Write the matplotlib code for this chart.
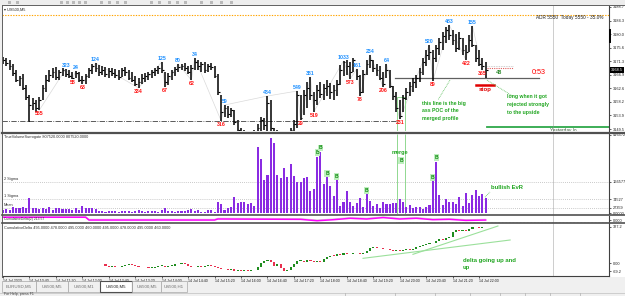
import matplotlib
matplotlib.use("Agg")
import matplotlib.pyplot as plt
from matplotlib.patches import Rectangle

plt.rcParams['font.family'] = ['Liberation Sans', 'DejaVu Sans']

# ---------------- data ----------------
bar_high = [3172.6, 3172.3, 3171.7, 3170.4, 3168.5, 3166.5, 3167.2, 3163.6, 3160.4, 3159.5,
            3158.8, 3159.8, 3163.6, 3166.9, 3168.5, 3169.1, 3169.4, 3168.5, 3169.1, 3168.8,
            3168.5, 3167.8, 3168.1, 3167.8, 3166.5, 3167.2, 3169.1, 3170.4, 3170.7, 3170.1,
            3169.7, 3169.4, 3169.1, 3169.1, 3168.8, 3168.5, 3169.1, 3169.4, 3168.5, 3167.8,
            3166.5, 3165.9, 3167.2, 3167.5, 3167.8, 3168.5, 3169.1, 3169.7, 3171.0, 3167.8,
            3167.5, 3168.5, 3169.4, 3170.4, 3170.4, 3170.7, 3169.7, 3170.1, 3172.3, 3171.7,
            3171.0, 3171.0, 3170.4, 3170.7, 3169.7, 3167.2, 3160.4, 3157.2, 3156.9, 3156.3,
            3155.6, 3152.4, 3149.8, 3149.2, 3148.2, 3147.9, 3149.2, 3151.1, 3153.4, 3153.0,
            3160.1, 3158.8, 3149.8, 3149.2, 3148.5, 3147.9, 3148.5, 3149.8, 3152.4, 3161.7,
            3160.4, 3162.0, 3164.6, 3166.2, 3161.4, 3163.6, 3164.6, 3164.0, 3165.2, 3164.3,
            3163.6, 3165.2, 3170.1, 3171.4, 3171.7, 3171.0, 3172.3, 3168.8, 3166.9, 3168.5,
            3171.7, 3173.3, 3171.7, 3170.4, 3169.7, 3167.8, 3170.4, 3168.5, 3163.3, 3161.4,
            3158.8, 3160.4, 3162.7, 3164.6, 3165.9, 3166.9, 3169.1, 3172.3, 3174.9, 3176.5,
            3174.9, 3176.5, 3178.7, 3180.7, 3182.3, 3182.9, 3181.3, 3180.0, 3180.7, 3178.7,
            3176.5, 3179.7, 3182.6, 3176.5, 3174.9, 3172.3, 3171.0]
bar_low = [3170.4, 3169.7, 3168.5, 3166.5, 3164.6, 3163.3, 3162.0, 3158.8, 3151.8, 3155.6,
           3155.0, 3155.6, 3158.8, 3161.4, 3164.6, 3165.9, 3165.2, 3165.2, 3166.5, 3166.2,
           3165.9, 3165.6, 3165.9, 3164.6, 3164.0, 3164.0, 3165.9, 3167.2, 3167.8, 3166.5,
           3166.9, 3166.2, 3165.9, 3166.5, 3165.9, 3165.2, 3166.2, 3166.5, 3165.2, 3164.6,
           3163.3, 3162.7, 3164.0, 3164.6, 3165.2, 3165.9, 3166.5, 3167.2, 3167.5, 3163.0,
           3163.6, 3165.2, 3166.5, 3167.8, 3168.5, 3168.1, 3167.2, 3165.2, 3168.5, 3168.5,
           3167.8, 3167.5, 3167.8, 3168.5, 3165.9, 3160.4, 3152.1, 3153.4, 3153.0, 3153.4,
           3150.8, 3148.5, 3146.0, 3145.3, 3144.0, 3144.4, 3145.3, 3146.6, 3148.5, 3149.2,
           3147.9, 3148.5, 3146.0, 3145.3, 3144.7, 3144.0, 3145.0, 3146.6, 3147.9, 3149.8,
           3152.4, 3154.0, 3156.3, 3158.8, 3155.0, 3157.2, 3159.5, 3158.8, 3160.1, 3159.1,
           3158.8, 3160.1, 3163.6, 3166.5, 3166.9, 3165.6, 3167.8, 3165.2, 3160.1, 3161.1,
           3166.9, 3169.1, 3167.8, 3166.5, 3165.2, 3163.0, 3165.9, 3162.7, 3158.8, 3155.0,
           3152.7, 3155.0, 3158.8, 3160.1, 3161.4, 3162.7, 3164.6, 3166.9, 3169.7, 3171.7,
           3164.9, 3171.0, 3173.3, 3174.9, 3177.1, 3178.1, 3176.5, 3174.2, 3174.9, 3173.3,
           3171.7, 3174.2, 3175.9, 3171.0, 3169.7, 3168.5, 3165.9]
bar_close = [3171.7, 3170.7, 3169.7, 3167.5, 3165.2, 3165.9, 3162.7, 3159.8, 3157.2, 3157.9,
             3156.3, 3158.8, 3162.7, 3165.2, 3166.9, 3167.8, 3166.2, 3167.8, 3168.5, 3167.2,
             3166.5, 3165.9, 3167.5, 3165.2, 3165.2, 3166.5, 3168.5, 3169.7, 3169.1, 3167.8,
             3168.5, 3167.2, 3168.1, 3167.5, 3166.9, 3166.2, 3168.5, 3167.8, 3165.9, 3165.2,
             3164.0, 3164.6, 3165.9, 3166.5, 3167.2, 3167.8, 3168.5, 3169.1, 3168.5, 3164.6,
             3166.5, 3167.8, 3168.8, 3169.4, 3169.7, 3169.1, 3167.8, 3169.1, 3171.0, 3169.7,
             3170.4, 3168.5, 3169.7, 3169.4, 3166.5, 3161.4, 3155.0, 3156.3, 3154.3, 3155.6,
             3151.8, 3149.2, 3147.3, 3146.6, 3146.0, 3146.9, 3147.9, 3149.8, 3152.4, 3150.8,
             3157.9, 3149.8, 3147.6, 3147.3, 3146.6, 3146.0, 3147.3, 3149.2, 3151.1, 3160.4,
             3153.0, 3160.4, 3162.7, 3160.4, 3158.8, 3162.0, 3160.7, 3162.7, 3163.3, 3161.4,
             3162.0, 3164.0, 3168.5, 3171.0, 3169.7, 3167.8, 3171.7, 3166.5, 3161.4, 3167.2,
             3170.4, 3171.7, 3169.1, 3168.5, 3165.9, 3164.0, 3168.5, 3163.3, 3160.1, 3156.3,
             3153.7, 3159.5, 3161.4, 3163.3, 3164.6, 3165.9, 3167.8, 3171.0, 3173.3, 3174.2,
             3172.3, 3175.5, 3177.5, 3179.4, 3181.3, 3179.7, 3178.1, 3175.5, 3178.7, 3174.9,
             3174.2, 3178.1, 3176.5, 3172.3, 3170.4, 3169.7, 3168.5]

high_label_idx = [19, 22, 28, 48, 53, 58, 67, 80, 89, 93, 103, 107, 111, 116, 129, 135, 142]
high_label_txt = ["323", "24", "124", "125", "80", "34", "59", "434", "549", "381",
                  "1033", "161", "234", "64", "520", "483", "155"]
low_label_idx = [11, 21, 24, 41, 49, 57, 66, 90, 94, 105, 108, 115, 120, 130, 140, 145]
low_label_txt = ["555", "58", "63", "334", "67", "62", "316", "29", "519", "573",
                 "78", "206", "231", "89", "422", "365"]

price_ticks = [3188.7, 3184.3, 3180.0, 3175.6, 3171.3, 3166.9, 3162.6, 3158.2, 3153.9, 3149.5]

volume = [15800, 21100, 15800, 31600, 26400, 26400, 31600, 26400, 79100, 26400,
          26400, 21100, 26400, 21100, 31600, 15800, 26400, 26400, 21100, 21100,
          21100, 15800, 26400, 15800, 36900, 26400, 26400, 26400, 21100, 10500,
          10500, 8000, 10500, 13000, 10500, 8000, 10500, 13000, 10500, 8000,
          10500, 15800, 10500, 8000, 10500, 13000, 10500, 8000, 15800, 26400,
          13000, 10500, 8000, 10500, 13000, 10500, 15800, 21100, 10500, 15800,
          3700, 6900, 15800, 15800, 3700, 58000, 47500, 15800, 26400, 31600,
          84400, 52700, 58000, 58000, 47500, 52700, 36900, 353300, 290000, 174000,
          200400, 400700, 374400, 200400, 184600, 237300, 189800, 263700, 195100, 163500,
          163500, 184600, 189800, 116000, 126600, 300600, 326900, 152900, 189800, 142400,
          89600, 174000, 36900, 58000, 116000, 58000, 36900, 52700, 79100, 31600,
          100200, 63300, 36900, 47500, 26400, 58000, 47500, 47500, 52700, 52700,
          73800, 58000, 31600, 42200, 26400, 31600, 31600, 21100, 31600, 42200,
          168700, 274200, 94900, 42200, 73800, 58000, 58000, 47500, 84400, 36900,
          105500, 52700, 94900, 121300, 89600, 100200, 79100]
sigma_values = [166577, 74527, 27359]
sigma_names = ["2 Sigma", "1 Sigma", "Mean"]
vol_top_label = 416572
b_label_idx = [95, 96, 98, 101, 110, 130, 131]

delta_start = 31
delta_open = [-10, -20, -30, -25, -35, -30, -20, -15, -10, -15,
              -20, -30, -35, -30, -40, -38, -30, -25, -20, -30,
              -25, -20, -10, -5, 0, -8, -20, -30, -35, -25,
              -30, -20, -15, -25, -30, -40, -55, -50, -60, -55,
              -65, -60, -70, -65, -70, -60, -62, -30, 0, 20,
              30, 10, -20, -10, -40, -70, -60, -35, -10, 20,
              25, 10, 30, 20, 10, 25, 15, 40, 60, 70,
              65, 80, 75, 90, 85, 80, 95, 90, 80, 90,
              110, 140, 150, 140, 135, 125, 130, 120, 115, 120,
              110, 120, 125, 120, 130, 145, 155, 165, 175, 180,
              185, 200, 215, 210, 230, 240, 280, 300, 295, 300,
              290, 305, 325, 330, 320, 325]
delta_close = [-20, -30, -25, -35, -30, -20, -15, -10, -15, -20,
               -30, -35, -30, -40, -38, -30, -25, -20, -30, -25,
               -20, -10, -5, 0, -8, -20, -30, -35, -25, -30,
               -20, -15, -25, -30, -40, -55, -50, -60, -55, -65,
               -60, -70, -65, -70, -60, -62, -30, 0, 20, 30,
               10, -20, -10, -40, -70, -60, -35, -10, 20, 25,
               10, 30, 20, 10, 25, 15, 40, 60, 70, 65,
               80, 75, 90, 85, 80, 95, 90, 80, 90, 110,
               140, 150, 140, 135, 125, 130, 120, 115, 120, 110,
               120, 125, 120, 130, 145, 155, 165, 175, 180, 185,
               200, 215, 210, 230, 240, 280, 300, 295, 300, 290,
               305, 325, 330, 320, 325, 330]
delta_ticks = [327.2, 0.0, -69.2]
delta_tick_labels = ["327.2", "0.00", "-69.2"]

strip_idx = [-0.3, 25, 26, 64, 65, 90, 95, 100, 105, 110, 115, 120, 125, 130, 135, 140, 146]
strip_val = [0.75, 0.75, 0.35, 0.35, 0.5, 0.45, 0.25, 0.4, 0.6, 0.5, 0.7, 0.5, 0.6, 0.4, 0.45, 0.3, 0.35]

time_labels = ["14 Jul 2020", "14 Jul 10:40", "14 Jul 11:20", "14 Jul 12:00", "14 Jul 12:40",
               "14 Jul 13:20", "14 Jul 14:00", "14 Jul 14:40", "14 Jul 15:20", "14 Jul 16:00",
               "14 Jul 16:40", "14 Jul 17:20", "14 Jul 18:00", "14 Jul 18:40", "14 Jul 19:20",
               "14 Jul 20:00", "14 Jul 20:40", "14 Jul 21:20", "14 Jul 22:00"]
tab_names = ["EURUSD,M5", "US500,M5", "US500,M1", "US500,M5", "US500,M5", "US500,H1"]

# levels drawn on the chart
level_top_dotted = 3186.2
level_dashdot = 3152.1
level_poc = 3165.9
level_stop = 3163.6
level_entry = 3169.1
level_yest_low = 3150.1

# ---------------- figure ----------------
W, H = 625, 296
fig = plt.figure(figsize=(W / 100, H / 100), dpi=100, facecolor='#F0F0F0')


def box(x0, y0, x1, y1, **kw):
    return fig.add_axes([x0 / W, 1 - y1 / H, (x1 - x0) / W, (y1 - y0) / H], **kw)


bg = box(0, 0, W, H)
bg.set_xlim(0, W)
bg.set_ylim(H, 0)
bg.axis('off')
bg.set_zorder(-5)
bg.add_patch(Rectangle((2, 5), 623, 272, facecolor='white', edgecolor='none'))
bg.add_patch(Rectangle((0, 0), W, 5, facecolor='#EDEDED', edgecolor='none'))
for xx in [8, 16, 60, 66, 72, 78, 84, 100, 108, 116, 124, 150, 158, 168, 176, 184, 200, 210, 220, 230]:
    bg.add_patch(Rectangle((xx, 0.5), 3, 3, facecolor='#B8B8B8', edgecolor='none'))
bg.plot([0, W], [292.5, 292.5], color='#C8C8C8', lw=0.6)
for xx in [345, 395, 435, 470, 500, 525, 550, 580]:
    bg.plot([xx, xx], [293, 296], color='#B0B0B0', lw=0.5)

XL = (-0.3, 183.3)
idx = list(range(len(bar_high)))


def style(ax):
    ax.set_xlim(*XL)
    ax.set_facecolor('white')
    for s in ['top', 'left', 'bottom']:
        ax.spines[s].set_visible(False)
    ax.spines['right'].set_color('#404040')
    ax.spines['right'].set_linewidth(0.8)
    ax.yaxis.tick_right()
    ax.tick_params(axis='y', labelsize=2.8, length=1.5, width=0.5, pad=1, colors='#202020')
    ax.set_xticks([])


# ---- main price panel ----
ax = box(2, 6, 609, 131)
style(ax)
ax.set_ylim(3148.86, 3189.02)
ax.set_yticks(price_ticks)
ax.set_yticklabels([f"{v:.1f}" for v in price_ticks])

piv = sorted([(i, bar_high[i]) for i in high_label_idx] + [(i, bar_low[i]) for i in low_label_idx])
ax.plot([p[0] for p in piv], [p[1] for p in piv], color='#DADADA', lw=0.5, zorder=1)

ax.axhline(level_top_dotted, color='#FFA500', lw=0.8, ls=(0, (1.2, 1.2)), zorder=1)
ax.plot([XL[0], 119], [level_dashdot] * 2, color='#404040', lw=0.6, ls='-.', zorder=1)

ax.vlines(idx, bar_low, bar_high, color='black', lw=1.1, zorder=3)
ax.hlines(bar_close, idx, [i + 0.55 for i in idx], color='black', lw=0.8, zorder=3)

for i, t in zip(high_label_idx, high_label_txt):
    ax.annotate(t, (i, bar_high[i]), xytext=(0, 0.6), textcoords='offset points', ha='center',
                va='bottom', fontsize=3.8, fontweight='bold', color='#1E90FF', zorder=4)
for i, t in zip(low_label_idx, low_label_txt):
    ax.annotate(t, (i, bar_low[i]), xytext=(0, -0.6), textcoords='offset points', ha='center',
                va='top', fontsize=3.8, fontweight='bold', color='#FF1010', zorder=4)

ax.plot([118.5, 162], [level_poc] * 2, color='#606060', lw=0.9, zorder=2)
ax.plot([143, 148.5], [level_stop] * 2, color='#E00000', lw=1.8, zorder=2)
ax.text(145.8, level_stop - 0.7, "stop", color='#E00000', fontsize=4.3, fontweight='bold',
        ha='center', va='top')
ax.plot([146.5, 154.3], [level_entry] * 2, color='#E06060', lw=0.8, ls=(0, (1, 1)), zorder=2)
ax.plot([146.5, 154.3], [level_entry + 0.6] * 2, color='#C0C0C0', lw=0.6, ls=(0, (1, 1)), zorder=2)
ax.text(150, 3167.8, "48", color='#2E8B2E', fontsize=4, fontweight='bold', ha='center', va='center')
ax.text(162, 3167.8, "0:53", color='#FF0000', fontsize=5.2, ha='center', va='center')
ax.plot([146.5, XL[1]], [level_yest_low] * 2, color='#2EA84A', lw=1.3, zorder=2)
ax.text(165.5, 3149.9, "Yesterday lo", color='#3A5A3A', fontsize=3.4, va='top', ha='left', clip_on=True)
ax.add_patch(Rectangle((119.2, 3140), 2.4, 19.8, fill=False, edgecolor='#90D890', lw=0.7, zorder=2))

green = '#1FA51F'
ax.text(126.7, 3158.6, "this line is the big\nass POC of the\nmerged profile", color=green,
        fontsize=3.7, fontweight='bold', ha='left', va='top', linespacing=1.7)
ax.text(152.5, 3160.6, "long when it got\nrejected strongly\nto the upside", color=green,
        fontsize=3.7, fontweight='bold', ha='left', va='top', linespacing=1.7)
ax.plot([135.2, 131.6], [3165.2, 3158.9], color='#60C060', lw=0.6, ls=(0, (1, 1)))
ax.plot([146.4, 154.3], [3165.2, 3160.0], color='#60C060', lw=0.6, ls=(0, (1, 1)))

ax.annotate(f"{bar_close[-1]:.1f}", xy=(1.0, bar_close[-1]), xycoords=('axes fraction', 'data'),
            xytext=(1.2, 0), textcoords='offset points', ha='left', va='center', fontsize=2.8,
            color='white', bbox=dict(boxstyle='square,pad=0.25', fc='black', ec='none'),
            annotation_clip=False)
ax.text(0.004, 0.985, "\u25be US500,M5", transform=ax.transAxes, fontsize=2.8, va='top', ha='left',
        color='#202020')

# ---- volume panel ----
av = box(2, 134, 609, 214)
style(av)
av.set_ylim(-5300, 421000)
vt = [vol_top_label] + sigma_values + [0]
av.set_yticks(vt)
av.set_yticklabels([str(v) for v in vt[:-1]] + ["0.0000"])
av.bar(idx, volume, width=0.62, color='#8A2BE2', linewidth=0, zorder=3)
for v, n in zip(sigma_values, sigma_names):
    av.axhline(v, color='#B8B8B8', lw=0.6, ls=(0, (1, 1.5)), zorder=1)
    av.text(0.3, v + 3000, n, fontsize=2.8, color='#303030', va='bottom', ha='left')
av.text(0.004, 0.985, "TrueVolumeSurrogate 807520.0000 807520.0000", transform=av.transAxes,
        fontsize=2.8, va='top', ha='left', color='#303030')
for i in b_label_idx:
    av.annotate("B", (i, volume[i]), xytext=(0, 1), textcoords='offset points', ha='center',
                va='bottom', fontsize=3.6, fontweight='bold', color='#108A10',
                bbox=dict(boxstyle='square,pad=0.15', fc='#BFEFBF', ec='none'))
av.vlines([119.2, 121.6], -5300, 421000, color='#90D890', lw=0.7, zorder=2)
av.text(117.4, 321600, "merge", color=green, fontsize=4, fontweight='bold', ha='left', va='center')
av.text(120.4, 279500, "B", color='#108A10', fontsize=3.6, fontweight='bold', ha='center', va='center',
        bbox=dict(boxstyle='square,pad=0.15', fc='#BFEFBF', ec='none'))
av.text(147.5, 137000, "bullish EvR", color=green, fontsize=4.2, fontweight='bold', ha='left', va='center')
av.plot([145.8, 147.3], [84400, 112000], color='#60C060', lw=0.6, ls=(0, (1, 1)))

# ---- thin strip panel ----
ast = box(2, 215.5, 609, 222.5)
style(ast)
ast.set_ylim(0, 1)
ast.set_yticks([0.35])
ast.set_yticklabels(["0.000"])
ast.plot(strip_idx, [v + 0.12 for v in strip_val], color='#D0D0D0', lw=0.6)
ast.plot(strip_idx, strip_val, color='#FF00FF', lw=1.1)
ast.plot([119, XL[1]], [0.1, 0.1], color='#A0A0A0', lw=0.5, ls=(0, (1, 1)))
ast.text(0.004, 0.5, "CumulativeDelta(2) 213.57", transform=ast.transAxes, fontsize=2.4,
         va='center', ha='left', color='#303030')

# ---- cumulative delta panel ----
ad = box(2, 224, 609, 276)
style(ad)
ad.spines['bottom'].set_visible(True)
ad.spines['bottom'].set_color('#404040')
ad.spines['bottom'].set_linewidth(0.8)
ad.set_ylim(-114.2, 354.2)
ad.set_yticks(delta_ticks)
ad.set_yticklabels(delta_tick_labels)
dx = [delta_start + k for k in range(len(delta_close))]
for x, o, c in zip(dx, delta_open, delta_close):
    col = '#1E8C1E' if c >= o else '#E8304F'
    lo, hi = min(o, c), max(o, c)
    if hi - lo < 6:
        hi = lo + 6
    ad.add_patch(Rectangle((x - 0.32, lo), 0.64, hi - lo, facecolor=col, edgecolor='none', zorder=3))
ad.plot([108.9, 153.4], [45, 210], color='#9BE09B', lw=0.8, zorder=2)
ad.plot([124, 149.7], [81, 336], color='#9BE09B', lw=0.8, zorder=2)
ad.text(139.0, 45, "delta going up and\nup", color=green, fontsize=4.3, fontweight='bold',
        ha='left', va='top', linespacing=1.5)
ad.text(0.004, 0.97, "CumulativeDelta 495.0000 478.0000 495.0000 460.0000 495.0000 478.0000 "
        "495.0000 460.0000", transform=ad.transAxes, fontsize=2.8, va='top', ha='left', color='#303030')
ad.set_xticks(list(range(0, 8 * len(time_labels), 8)))
ad.set_xticklabels(time_labels)
ad.tick_params(axis='x', labelsize=2.6, length=1.5, width=0.5, pad=0.8, colors='#202020')
for lab in ad.get_xticklabels():
    lab.set_ha('left')

# ---- overlay: frames, separators, tabs ----
ov = box(0, 0, W, H)
ov.set_xlim(0, W)
ov.set_ylim(H, 0)
ov.axis('off')
ov.set_zorder(10)
ov.patch.set_alpha(0)
ov.plot([2, 2], [5, 276.5], color='#606060', lw=0.7)
ov.plot([2, 625], [5.3, 5.3], color='#606060', lw=0.7)
ov.plot([553, 553], [6, 276], color='#8C8C8C', lw=0.6, ls=(0, (1.2, 1.2)))
ov.plot([2, 625], [132.5, 132.5], color='#505050', lw=1.6)
ov.plot([2, 625], [214.7, 214.7], color='#505050', lw=1.2)
ov.plot([2, 625], [223.2, 223.2], color='#505050', lw=1.2)
ov.plot([609.5, 609.5], [30, 42], color='black', lw=1.4)
tab_edges = [2, 36, 68, 100, 132, 161, 187]
for k, name in enumerate(tab_names):
    x0, x1 = tab_edges[k], tab_edges[k + 1]
    active = (k == 3)
    ov.add_patch(Rectangle((x0, 281), x1 - x0, 10.5, facecolor='white' if active else '#F0F0F0',
                           edgecolor='#505050' if active else '#A8A8A8', lw=0.8 if active else 0.5))
    ov.text((x0 + x1) / 2, 286.3, name, fontsize=3.2, ha='center', va='center',
            color='#202020' if active else '#707070')
ov.text(4, 294.5, "For Help, press F1", fontsize=2.6, va='center', ha='left', color='#404040')
ov.text(603, 17.5, "ADR 5550  Today 5550 - 35.0%", fontsize=3.4, ha='right', va='center',
        color='#202020')

fig.savefig("out.png", dpi=100, facecolor=fig.get_facecolor())
